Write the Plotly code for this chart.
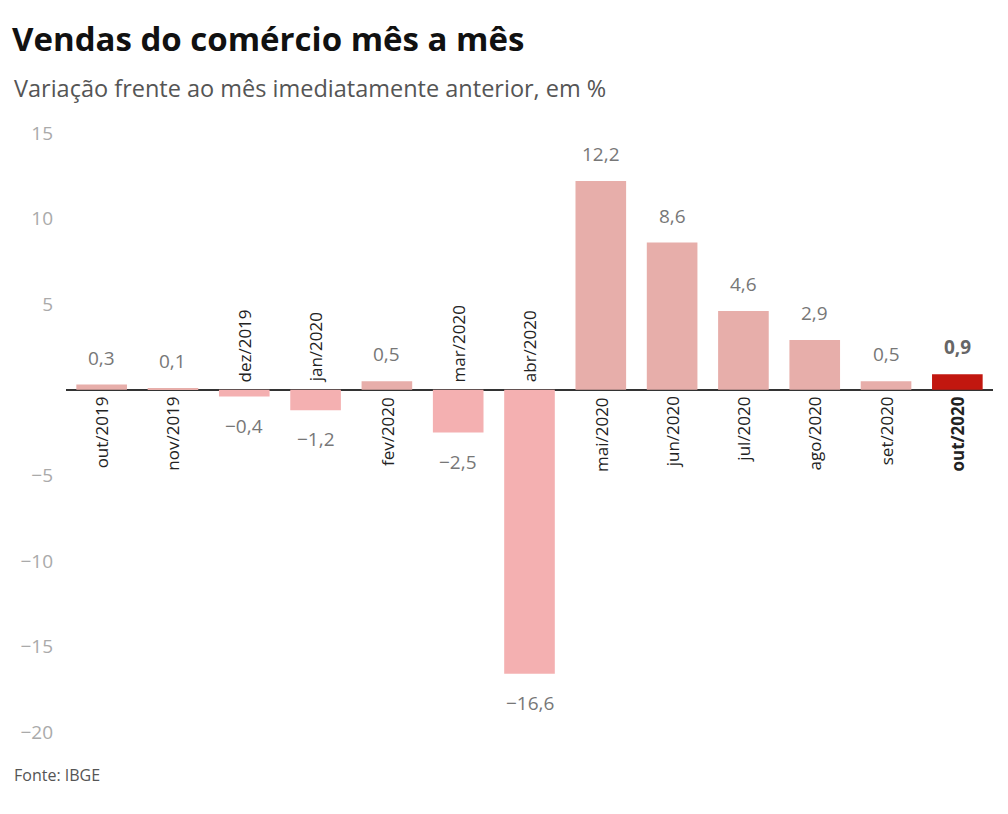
import plotly.graph_objects as go

categories = ["out/2019", "nov/2019", "dez/2019", "jan/2020", "fev/2020", "mar/2020",
              "abr/2020", "mai/2020", "jun/2020", "jul/2020", "ago/2020", "set/2020", "out/2020"]
values = [0.3, 0.1, -0.4, -1.2, 0.5, -2.5, -16.6, 12.2, 8.6, 4.6, 2.9, 0.5, 0.9]
y_ticks = [-20, -15, -10, -5, 5, 10, 15]

POS = "#e7aeaa"
NEG = "#f4b0b1"
HIGHLIGHT = "#c2170f"
FONT = "Open Sans"

# page body has an 8px margin; work in window pixel coords and subtract it
OFF = 8
W, H = 1008 - OFF, 814 - OFF
L, R, T, B = 62 - OFF, 15, 133 - OFF, 82
pw, ph = W - L - R, H - T - B


def px_x(px):
    return (px - OFF - L) / pw


def px_y(py):
    return (H - B - (py - OFF)) / ph


def fmt(v):
    s = f"{abs(v):.1f}".replace(".", ",")
    return ("\u2212" + s) if v < 0 else s


n = len(categories)
colors = []
for i, v in enumerate(values):
    if i == n - 1:
        colors.append(HIGHLIGHT)
    else:
        colors.append(POS if v >= 0 else NEG)

fig = go.Figure(go.Bar(x=categories, y=values, marker=dict(color=colors, line=dict(width=0)),
                       hoverinfo="skip"))

ann = []
for i, (c, v) in enumerate(zip(categories, values)):
    last = i == n - 1
    ann.append(dict(
        x=c, y=v, xref="x", yref="y", text=(f"<b>{fmt(v)}</b>" if last else fmt(v)),
        showarrow=False, yanchor="bottom" if v >= 0 else "top",
        yshift=12 if v >= 0 else -14,
        font=dict(family=FONT, size=19, color="#666" if last else "#777"),
    ))
    ann.append(dict(
        x=c, y=0, xref="x", yref="y", text=(f"<b>{c}</b>" if last else c),
        showarrow=False, textangle=-90,
        yanchor="top" if v >= 0 else "bottom",
        yshift=-5 if v >= 0 else 5,
        font=dict(family=FONT, size=17, color="#222"),
    ))

ann.append(dict(x=px_x(6), y=px_y(39), xref="paper", yref="paper", xanchor="left", yanchor="middle",
                text="<b>Vendas do comércio mês a mês</b>", showarrow=False,
                font=dict(family=FONT, size=33, color="#111")))
ann.append(dict(x=px_x(8), y=px_y(88), xref="paper", yref="paper", xanchor="left", yanchor="middle",
                text="Variação frente ao mês imediatamente anterior, em %", showarrow=False,
                font=dict(family=FONT, size=23.5, color="#555")))
ann.append(dict(x=px_x(8), y=px_y(775), xref="paper", yref="paper", xanchor="left", yanchor="middle",
                text="Fonte: IBGE", showarrow=False,
                font=dict(family=FONT, size=16, color="#555")))

fig.update_layout(
    width=W, height=H,
    margin=dict(l=L, r=R, t=T, b=B),
    paper_bgcolor="white", plot_bgcolor="white",
    separators=",.",
    bargap=0.29,
    showlegend=False,
    annotations=ann,
    font=dict(family=FONT),
    xaxis=dict(showticklabels=False, showgrid=False, zeroline=False, showline=False, ticks=""),
    yaxis=dict(range=[-20, 15], tickvals=y_ticks, ticktext=[fmt(t).replace(",0", "") for t in y_ticks],
               showgrid=False, zeroline=True, zerolinecolor="#333", zerolinewidth=1.5,
               showline=False, ticks="", ticklabelstandoff=12,
               tickfont=dict(family=FONT, size=19, color="#aaa")),
)

fig.write_html("out.html")
